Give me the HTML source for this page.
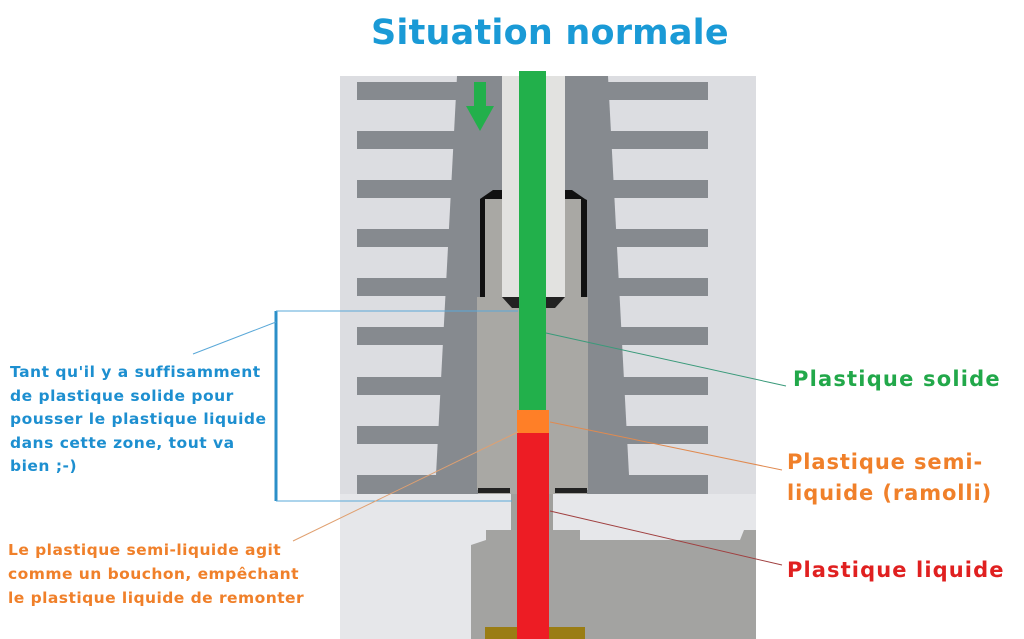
<!DOCTYPE html>
<html><head><meta charset="utf-8"><style>
body{margin:0;width:1024px;height:639px;overflow:hidden;background:#fff;position:relative;font-family:"DejaVu Sans",sans-serif;font-weight:bold}
.t{position:absolute;white-space:nowrap}
</style></head><body>
<svg width="1024" height="639" style="position:absolute;left:0;top:0">
<rect x="340" y="76" width="416" height="563" fill="#dcdde1"/>
<rect x="340" y="494" width="416" height="145" fill="#e6e7ea"/>
<polygon points="457,76 608,76 630,494 435,494" fill="#868a8f"/>
<g fill="#868a8f">
<rect x="357" y="82" width="100" height="18"/><rect x="357" y="131" width="100" height="18"/>
<rect x="357" y="180" width="100" height="18"/><rect x="357" y="229" width="100" height="18"/>
<rect x="357" y="278" width="100" height="18"/><rect x="357" y="327" width="100" height="18"/>
<rect x="357" y="377" width="100" height="18"/><rect x="357" y="426" width="100" height="18"/>
<rect x="357" y="475" width="100" height="19"/>
<rect x="608" y="82" width="100" height="18"/><rect x="608" y="131" width="100" height="18"/>
<rect x="608" y="180" width="100" height="18"/><rect x="608" y="229" width="100" height="18"/>
<rect x="608" y="278" width="100" height="18"/><rect x="608" y="327" width="100" height="18"/>
<rect x="608" y="377" width="100" height="18"/><rect x="608" y="426" width="100" height="18"/>
<rect x="608" y="475" width="100" height="19"/>
</g>
<polygon points="480,199 493,190 572,190 585,199 587,200 587,297 480,297" fill="#111"/>
<rect x="485" y="199" width="96" height="98" fill="#a9a8a4"/>
<rect x="477" y="297" width="111" height="193" fill="#a9a8a4"/>
<rect x="478" y="480" width="109" height="14" fill="#a9a8a4"/>
<rect x="478" y="488" width="32" height="5" fill="#222"/>
<rect x="555" y="488" width="32" height="5" fill="#222"/>
<rect x="502" y="76" width="63" height="221" fill="#e2e2e0"/>
<polygon points="502,297 565,297 555,308 512,308" fill="#222"/>
<rect x="511" y="494" width="42" height="40" fill="#a0a09d"/>
<polygon points="486,530 580,530 580,540 740,540 744,530 756,530 756,639 471,639 471,545 486,540" fill="#a3a3a1"/>
<rect x="485" y="627" width="100" height="12" fill="#9a7d14"/>
<rect x="519" y="71" width="27" height="340" fill="#22b04b"/>
<rect x="517" y="410" width="32" height="23" fill="#ff7f27"/>
<rect x="517" y="433" width="32" height="206" fill="#ed1c24"/>
<rect x="474" y="82" width="12" height="28" fill="#22b04b"/>
<polygon points="466,106 494,106 480,131" fill="#22b04b"/>
<line x1="276" y1="311" x2="276" y2="501" stroke="#2b8fc8" stroke-width="3"/>
<line x1="276" y1="311" x2="518" y2="311" stroke="#5aa8d8" stroke-width="1"/>
<line x1="276" y1="501" x2="512" y2="501" stroke="#5aa8d8" stroke-width="1"/>
<line x1="193" y1="354" x2="276" y2="322" stroke="#5aa8d8" stroke-width="1"/>
<line x1="546" y1="333" x2="786" y2="386" stroke="#3a9a7a" stroke-width="1"/>
<line x1="550" y1="422" x2="782" y2="470" stroke="#e08a50" stroke-width="1"/>
<line x1="550" y1="511" x2="782" y2="565" stroke="#a04040" stroke-width="1"/>
<line x1="518" y1="432" x2="293" y2="541" stroke="#e0a070" stroke-width="1"/>
</svg>
<div class="t" style="left:371px;top:13px;font-size:35px;letter-spacing:0.2px;color:#1a9ad6">Situation normale</div>
<div class="t" style="left:10px;top:361px;font-size:15.5px;line-height:23.5px;letter-spacing:0.5px;color:#1d8fd0">Tant qu'il y a suffisamment<br>de plastique solide pour<br>pousser le plastique liquide<br>dans cette zone, tout va<br>bien ;-)</div>
<div class="t" style="left:8px;top:538px;font-size:15.5px;line-height:24px;letter-spacing:0.45px;color:#f0802a">Le plastique semi-liquide agit<br>comme un bouchon, empêchant<br>le plastique liquide de remonter</div>
<div class="t" style="left:793px;top:367px;font-size:21px;letter-spacing:1.2px;color:#22a84a">Plastique solide</div>
<div class="t" style="left:787px;top:447px;font-size:21px;line-height:31px;letter-spacing:0.9px;color:#f0802a">Plastique semi-<br>liquide (ramolli)</div>
<div class="t" style="left:787px;top:558px;font-size:21px;letter-spacing:1.1px;color:#e02020">Plastique liquide</div>
</body></html>
